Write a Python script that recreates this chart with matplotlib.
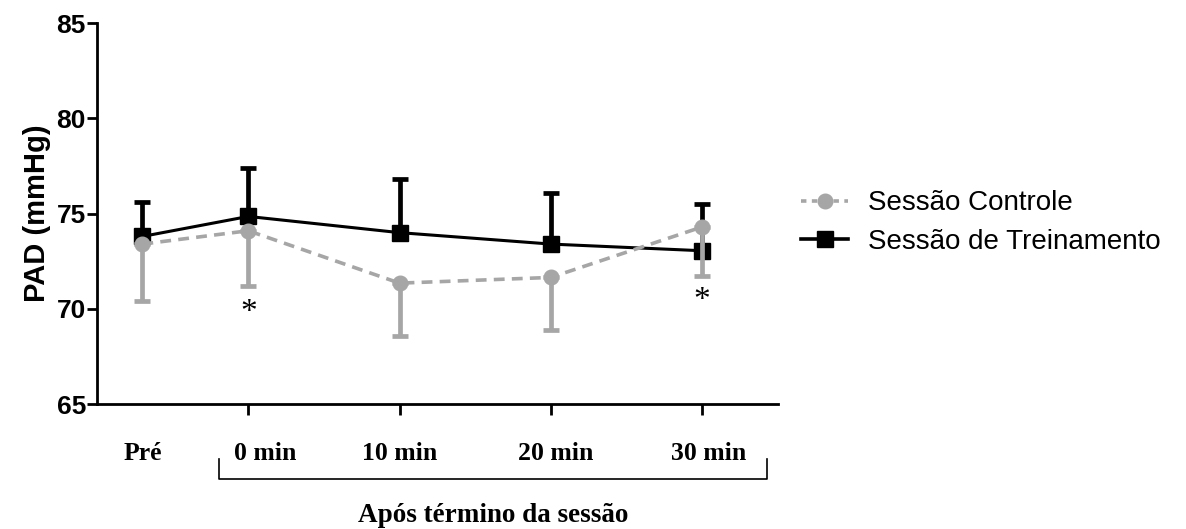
import matplotlib
matplotlib.use("Agg")
import matplotlib.pyplot as plt
from matplotlib.lines import Line2D
import numpy as np

# posicoes no eixo x (Pré fica antes do 0 min, sem tick)
x_pos = [-7, 0, 10, 20, 30]
x_labels = ["Pré", "0 min", "10 min", "20 min", "30 min"]
label_pos = [-7, 1.1, 10, 20.3, 30.4]

# Sessão de Treinamento (média e limite superior do erro)
treino_media = [73.8, 74.85, 74.0, 73.4, 73.05]
treino_sup = [75.6, 77.4, 76.8, 76.1, 75.5]

# Sessão Controle (média e limite inferior do erro)
controle_media = [73.4, 74.1, 71.35, 71.65, 74.3]
controle_inf = [70.4, 71.2, 68.6, 68.9, 71.7]

# asteriscos
ast_x = [0, 30]
ast_y = [69.8, 70.4]

grey = "#a6a6a6"

fig = plt.figure(figsize=(11.86, 5.29), dpi=100)
ax = fig.add_axes([0.0818, 0.236, 0.574, 0.7205])

t_m = np.array(treino_media)
t_err = np.array(treino_sup) - t_m
c_m = np.array(controle_media)
c_err = c_m - np.array(controle_inf)

ax.errorbar(x_pos, t_m, yerr=[np.zeros_like(t_err), t_err], color="black",
            lw=2.2, marker="s", ms=11, elinewidth=3.4, capsize=6, capthick=3.4,
            zorder=3)
ax.errorbar(x_pos, c_m, yerr=[c_err, np.zeros_like(c_err)], color=grey,
            lw=2.6, ls=(0, (3, 2)), marker="o", ms=10.5, elinewidth=3.4,
            capsize=6, capthick=3.4, zorder=4)

for xa, ya in zip(ast_x, ast_y):
    ax.text(xa, ya, "*", ha="center", va="center", fontsize=24,
            family="Liberation Serif")

ax.set_xlim(-10, 35)
ax.set_ylim(65, 85)
ax.set_yticks([65, 70, 75, 80, 85])
ax.set_xticks([0, 10, 20, 30])
ax.set_xticklabels([])
ax.spines["top"].set_visible(False)
ax.spines["right"].set_visible(False)
for s in ["left", "bottom"]:
    ax.spines[s].set_linewidth(2)
ax.tick_params(axis="y", length=7, width=2, labelsize=19, pad=1)
ax.tick_params(axis="x", length=8, width=2)
for lab in ax.get_yticklabels():
    lab.set_fontweight("bold")
    lab.set_family("Liberation Sans")
ax.set_ylabel("PAD (mmHg)", fontsize=21, fontweight="bold",
              family="Liberation Sans", labelpad=4)

# rotulos do eixo x
trans = ax.get_xaxis_transform()
for xp, lab in zip(label_pos, x_labels):
    ax.text(xp, -0.13, lab, transform=trans, ha="center",
            va="center", fontsize=18.5, fontweight="bold",
            family="Liberation Serif")

# colchete "Após término da sessão"
bx0, bx1 = -1.95, 34.3
ax.plot([bx0, bx0, bx1, bx1], [-0.143, -0.196, -0.196, -0.143], color="black",
        lw=1.2, transform=trans, clip_on=False)
ax.text((bx0 + bx1) / 2, -0.293, "Após término da sessão", transform=trans,
        ha="center", va="center", fontsize=19.5, fontweight="bold",
        family="Liberation Serif")

handles = [
    Line2D([], [], color=grey, lw=2.6, ls=(0, (1.5, 1.5)), marker="o", ms=10.5),
    Line2D([], [], color="black", lw=2.6, marker="s", ms=11),
]
labels = ["Sessão Controle", "Sessão de Treinamento"]
fig.legend(handles, labels, loc="center left",
           bbox_to_anchor=(0.666, 0.579), frameon=False,
           prop={"family": "Liberation Sans", "size": 20},
           handlelength=1.7, labelspacing=0.45, handletextpad=0.7,
           borderaxespad=0)

fig.savefig("out.png", dpi=100)
